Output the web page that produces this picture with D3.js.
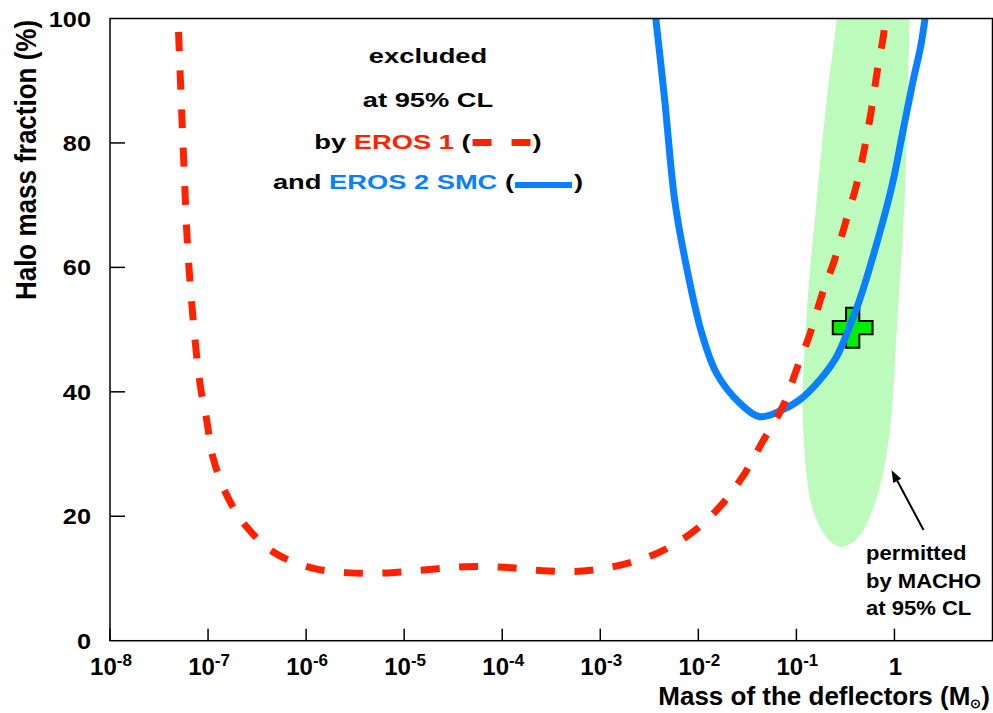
<!DOCTYPE html>
<html>
<head>
<meta charset="utf-8">
<script src="https://cdn.jsdelivr.net/npm/d3@7"></script>
<style>
  html, body { margin: 0; padding: 0; background: #fff; }
  svg { display: block; }
  text { font-family: "Liberation Sans", Arial, Helvetica, sans-serif; font-weight: bold; }
</style>
</head>
<body>
<svg id="chart" width="993" height="713"></svg>
<script>
// ---------------- data ----------------
const xTickExponents = [-8, -7, -6, -5, -4, -3, -2, -1, 0];
const yTickValues = [0, 20, 40, 60, 80, 100];

// EROS 1 exclusion limit (mass in solar masses, halo fraction in %)
const eros1Mass = [4.83e-8, 5.55e-8, 6.38e-8, 8.26e-8, 9.68e-8, 1.12e-7, 1.55e-7, 2.47e-7, 4.81e-7,
  1.14e-6, 2.79e-6, 6.82e-6, 1.69e-5, 4.16e-5, 1.06e-4, 2.59e-4, 6.64e-4, 1.64e-3, 3.85e-3,
  8.51e-3, 1.65e-2, 2.84e-2, 4.53e-2, 7.24e-2, 0.100, 0.136, 0.185, 0.245, 0.318, 0.409, 0.497,
  0.586, 0.670, 0.782, 0.83];
const eros1Fraction = [104, 80.0, 60.1, 41.4, 35.5, 29.5, 23.4, 18.3, 14.1,
  11.7, 10.9, 10.9, 11.4, 11.9, 11.8, 11.25, 11.2, 12.2, 14.1,
  17.3, 21.5, 26.4, 32.0, 37.6, 43.5, 49.1, 55.9, 61.2, 67.3, 73.2, 79.3,
  85.6, 91.7, 97.9, 103];

// EROS 2 SMC exclusion limit
const eros2Mass = [3.45e-3, 4.54e-3, 5.74e-3, 7.57e-3, 1.08e-2, 1.53e-2, 2.64e-2, 4.23e-2, 6.76e-2,
  0.108, 0.173, 0.256, 0.349, 0.442, 0.706, 0.959, 1.21, 1.53, 1.88, 2.21];
const eros2Fraction = [104, 86.9, 70.8, 60.1, 49.5, 43.0, 38.2, 36.0, 36.9,
  38.7, 41.9, 45.6, 50.5, 54.8, 65.5, 73.6, 81.6, 89.6, 96.1, 104];

// MACHO 95% CL permitted region (closed contour)
const machoMass = [0.275, 0.258, 0.204, 0.161, 0.130, 0.116, 0.119, 0.127, 0.143, 0.173, 0.218,
  0.276, 0.366, 0.463, 0.571, 0.675, 0.776, 0.873, 0.959, 1.028, 1.104, 1.27, 1.36, 1.43, 1.46];
const machoFraction = [106, 100, 86.9, 70.8, 54.8, 38.7, 32.3, 26.6, 21.8, 18.3, 16.1,
  15.1, 15.7, 17.3, 20.3, 23.5, 27.4, 32.3, 38.7, 46.7, 54.8, 70.8, 86.9, 100, 106];

// MACHO best fit
const bestFitMass = [0.375];
const bestFitFraction = [50.3];

// arrow annotation (data coords): head, tail
const arrowMass = [0.935, 1.98];
const arrowFraction = [27.4, 17.8];

// ---------------- layout ----------------
const svg = d3.select("#chart");
const W = 993, H = 713;
const plot = { left: 110, right: 992.5, top: 18.5, bottom: 640.7 };
const RED = "#ff2200", BLUE = "#0a80ff";

const x = d3.scaleLog().domain([1e-8, 10]).range([plot.left, plot.right]);
const y = d3.scaleLinear().domain([0, 100]).range([plot.bottom, plot.top]);

svg.append("rect").attr("width", W).attr("height", H).attr("fill", "#fff");

svg.append("defs").append("clipPath").attr("id", "clip")
  .append("rect").attr("x", plot.left).attr("y", plot.top)
  .attr("width", plot.right - plot.left).attr("height", plot.bottom - plot.top);

const g = svg.append("g").attr("clip-path", "url(#clip)");

// helper: horizontally stretched text
function label(parent, px, py, size, sx, anchor) {
  const grp = parent.append("g").attr("transform", `translate(${px},${py}) scale(${sx},1)`);
  return grp.append("text").attr("font-size", size).attr("text-anchor", anchor || "start");
}

const line = d3.line().x(d => x(d[0])).y(d => y(d[1]));

// MACHO region
const macho = machoMass.map((m, i) => [m, machoFraction[i]]);
g.append("path")
  .attr("d", line.curve(d3.curveCatmullRomClosed.alpha(0.5))(macho))
  .attr("fill", "#bdfbbd").attr("stroke", "none");

// best fit cross (under the curves)
g.selectAll(".bf").data(bestFitMass).enter().append("path")
  .attr("transform", (d, i) => `translate(${x(d)},${y(bestFitFraction[i])})`)
  .attr("d", d3.symbol().type(d3.symbolCross).size(880))
  .attr("fill", "#00ee00").attr("stroke", "#000").attr("stroke-width", 2);

// EROS 2 solid
const e2 = eros2Mass.map((m, i) => [m, eros2Fraction[i]]);
g.append("path")
  .attr("d", line.curve(d3.curveCatmullRom.alpha(0.5))(e2))
  .attr("fill", "none").attr("stroke", BLUE).attr("stroke-width", 7);

// EROS 1 dashed
const e1 = eros1Mass.map((m, i) => [m, eros1Fraction[i]]);
g.append("path")
  .attr("d", line.curve(d3.curveCatmullRom.alpha(0.5))(e1))
  .attr("fill", "none").attr("stroke", RED).attr("stroke-width", 7)
  .attr("stroke-dasharray", "19,19.5");

// frame
svg.append("rect").attr("x", plot.left).attr("y", plot.top)
  .attr("width", plot.right - plot.left).attr("height", plot.bottom - plot.top)
  .attr("fill", "none").attr("stroke", "#000").attr("stroke-width", 1.5);

// x ticks (inward)
const xTicks = xTickExponents.map(e => Math.pow(10, e));
svg.selectAll(".xt").data(xTicks).enter().append("line")
  .attr("x1", d => x(d)).attr("x2", d => x(d))
  .attr("y1", plot.bottom).attr("y2", plot.bottom - 12)
  .attr("stroke", "#000").attr("stroke-width", 1.5);

xTickExponents.forEach(e => {
  const t = label(svg, x(Math.pow(10, e)) + 1, 675, 24, 1.0, "middle");
  if (e === 0) { t.text("1"); return; }
  t.append("tspan").text("10");
  t.append("tspan").attr("font-size", 17).attr("dy", -9).text(String(e));
});

// y ticks (inward)
svg.selectAll(".yt").data(yTickValues.filter(v => v > 0 && v < 100)).enter().append("line")
  .attr("x1", plot.left).attr("x2", plot.left + 15)
  .attr("y1", d => y(d)).attr("y2", d => y(d))
  .attr("stroke", "#000").attr("stroke-width", 1.5);

yTickValues.forEach(v => {
  label(svg, 91, y(v) + 8, 22, 1.15, "end").text(v);
});

// axis titles
svg.append("g").attr("transform", "translate(36,160) rotate(-90) scale(1,1.12)")
  .append("text").attr("text-anchor", "middle").attr("font-size", 26)
  .text("Halo mass fraction (%)");

const xt = label(svg, 990, 705, 26, 1.0, "end");
xt.append("tspan").text("Mass of the deflectors (M");
xt.append("tspan").attr("font-size", 13).attr("dy", 3).text("\u2299");
xt.append("tspan").attr("dy", -3).text(")");

// legend block
const LSX = 1.3;
const legendLines = [
  { y: 62.5, segs: [{ t: "excluded", c: "#000" }] },
  { y: 107, segs: [{ t: "at 95% CL", c: "#000" }] },
  { y: 148.5, segs: [{ t: "by ", c: "#000" }, { t: "EROS 1", c: RED }, { t: " (", c: "#000" }, { sym: "dash", w: 62 }, { t: ")", c: "#000" }] },
  { y: 189, segs: [{ t: "and ", c: "#000" }, { t: "EROS 2 SMC", c: BLUE }, { t: " (", c: "#000" }, { sym: "solid", w: 60 }, { t: ")", c: "#000" }] }
];
const legendCx = 428;
legendLines.forEach(ln => {
  const items = [];
  let total = 0;
  ln.segs.forEach(s => {
    if (s.t !== undefined) {
      const el = label(svg, 0, ln.y, 21, LSX, "start").attr("fill", s.c)
        .style("white-space", "pre").text(s.t);
      const w = el.node().getComputedTextLength() * LSX;
      items.push({ el, w, s });
      total += w;
    } else {
      items.push({ s, w: s.w });
      total += s.w;
    }
  });
  let cx = legendCx - total / 2;
  items.forEach(it => {
    if (it.el) {
      d3.select(it.el.node().parentNode).attr("transform", `translate(${cx},${ln.y}) scale(${LSX},1)`);
    } else if (it.s.sym === "dash") {
      const yy = ln.y - 6;
      svg.append("line").attr("x1", cx + 2).attr("x2", cx + 21).attr("y1", yy).attr("y2", yy)
        .attr("stroke", RED).attr("stroke-width", 7);
      svg.append("line").attr("x1", cx + 41).attr("x2", cx + 60).attr("y1", yy).attr("y2", yy)
        .attr("stroke", RED).attr("stroke-width", 7);
    } else {
      const yy = ln.y - 4;
      svg.append("line").attr("x1", cx + 1).attr("x2", cx + 58).attr("y1", yy).attr("y2", yy)
        .attr("stroke", BLUE).attr("stroke-width", 6);
    }
    cx += it.w;
  });
});

// MACHO annotation
const ax1 = x(arrowMass[1]), ay1 = y(arrowFraction[1]);
const ax0 = x(arrowMass[0]), ay0 = y(arrowFraction[0]);
const ang = Math.atan2(ay0 - ay1, ax0 - ax1);
const headLen = 12, headW = 4.5;
const bx = ax0 - headLen * Math.cos(ang), by = ay0 - headLen * Math.sin(ang);
svg.append("line").attr("x1", ax1).attr("y1", ay1).attr("x2", bx).attr("y2", by)
  .attr("stroke", "#000").attr("stroke-width", 2);
svg.append("path")
  .attr("d", `M${ax0},${ay0} L${bx + headW * Math.sin(ang)},${by - headW * Math.cos(ang)} L${bx - headW * Math.sin(ang)},${by + headW * Math.cos(ang)} Z`)
  .attr("fill", "#000");

const noteLines = ["permitted", "by MACHO", "at 95% CL"];
noteLines.forEach((d, i) => {
  label(svg, 866, 560 + i * 27.5, 21, 1.05, "start").text(d);
});
</script>
</body>
</html>
